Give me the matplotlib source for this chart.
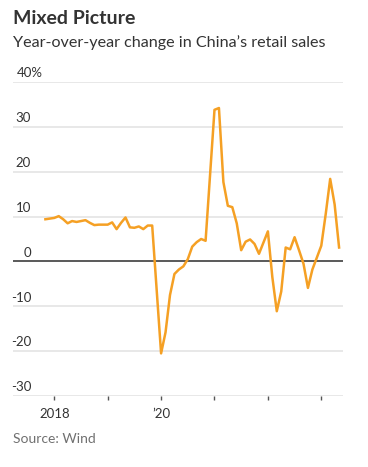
import matplotlib
matplotlib.use("Agg")
import matplotlib.pyplot as plt
import pandas as pd

# China retail sales, year-over-year change (%); Jan and Feb are reported together
months = pd.period_range("2017-12", "2023-06", freq="M")
months = months[months.month != 1]
values = [
    9.4,
    9.7, 10.1, 9.4, 8.5, 9.0, 8.8, 9.0, 9.2, 8.6, 8.1, 8.2,
    8.2, 8.7, 7.2, 8.6, 9.8, 7.6, 7.5, 7.8, 7.2, 8.0, 8.0,
    -20.5, -15.8, -7.5, -2.8, -1.8, -1.1, 0.5, 3.3, 4.3, 5.0, 4.6,
    33.8, 34.2, 17.7, 12.4, 12.1, 8.5, 2.5, 4.4, 4.9, 3.9, 1.7,
    6.7, -3.5, -11.1, -6.7, 3.1, 2.7, 5.4, 2.5, -0.5, -5.9, -1.8,
    3.5, 10.6, 18.4, 12.7, 3.1,
]
y_ticks = [40, 30, 20, 10, 0, -10, -20, -30]
y_labels = ["40%", "30", "20", "10", "0", "-10", "-20", "-30"]
x_ticks = ["2018-02", "2019-02", "2020-02", "2021-02", "2022-02", "2023-02"]
x_labels = ["2018", "", "\u201920", "", "", ""]

FONT = "Lato"
ORANGE = "#F5A024"

origin = pd.Period("2018-02", freq="M")
x = [(m - origin).n for m in months]
xt = [(pd.Period(t, freq="M") - origin).n for t in x_ticks]

W, H = 368, 467
fig = plt.figure(figsize=(W / 100, H / 100), dpi=100)
ax_left, ax_right, ax_top, ax_bot = 13, 343, 82, 396
ax = fig.add_axes([ax_left / W, 1 - ax_bot / H,
                   (ax_right - ax_left) / W, (ax_bot - ax_top) / H])

ax.set_xlim(-9.28, 64.88)
ax.set_ylim(-30, 40)
for s in ax.spines.values():
    s.set_visible(False)

ax.set_yticks(y_ticks)
ax.tick_params(axis="y", length=0, labelleft=False)
ax.yaxis.grid(True, color="#e4e4e4", lw=1.2)
ax.set_axisbelow(True)
ax.axhline(0, color="#5a5a5a", lw=1.4, zorder=2)

# labels sit just above their gridline, right-aligned (the % hangs past)
lab_x = (31 - ax_left) / (ax_right - ax_left)
pct_x = (17 - ax_left) / (ax_right - ax_left)
for v, lab in zip(y_ticks, y_labels):
    pct = lab.endswith("%")
    ax.annotate(lab, xy=(pct_x if pct else lab_x, v),
                xycoords=("axes fraction", "data"),
                xytext=(0, 2), textcoords="offset points",
                ha="left" if pct else "right", va="bottom", fontsize=9.5,
                color="#333333", family=FONT)

ax.set_xticks(xt)
ax.set_xticklabels(x_labels, fontsize=9.5, color="#333333", family=FONT)
ax.tick_params(axis="x", direction="out", length=3, width=1, color="#555555",
               pad=6)

ax.plot(x, values, color=ORANGE, lw=1.8, zorder=3, solid_joinstyle="round")

fig.text(13 / W, 1 - 10 / H, "Mixed Picture", fontsize=14, fontweight="bold",
         color="#333333", family=FONT, va="top", ha="left")
fig.text(13 / W, 1 - 35 / H, "Year-over-year change in China\u2019s retail sales",
         fontsize=11.6, color="#333333", family=FONT, va="top", ha="left")
fig.text(13 / W, 1 - 439 / H, "Source: Wind", fontsize=10, color="#707070",
         family=FONT, va="center", ha="left")

fig.savefig("out.png", dpi=100)
